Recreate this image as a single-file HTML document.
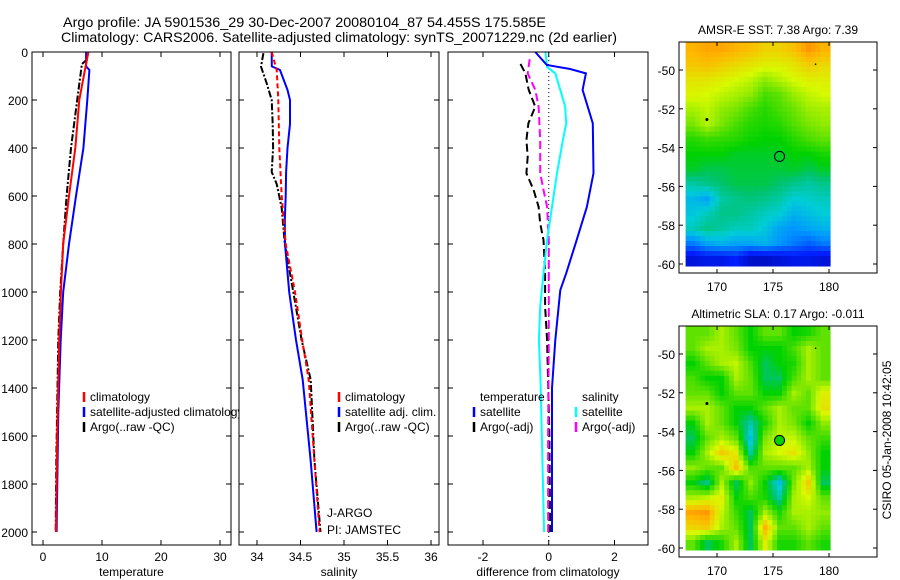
<!DOCTYPE html>
<html><head><meta charset="utf-8"><title>Argo profile</title>
<style>
html,body{margin:0;padding:0;background:#fff;}
svg{display:block;font-family:"Liberation Sans",sans-serif;}
</style></head>
<body>
<svg id="fig" width="900" height="580" viewBox="0 0 900 580" xmlns="http://www.w3.org/2000/svg">
<rect x="0" y="0" width="900" height="580" fill="#fff"/>
<text x="63" y="27" font-size="14" textLength="483" lengthAdjust="spacingAndGlyphs">Argo profile: JA 5901536_29 30-Dec-2007 20080104_87 54.455S 175.585E</text>
<text x="61" y="42" font-size="14" textLength="556" lengthAdjust="spacingAndGlyphs">Climatology: CARS2006. Satellite-adjusted climatology: synTS_20071229.nc (2d earlier)</text>
<g id="layer"></g>
<text x="0" y="0" font-size="12" transform="translate(891,440) rotate(-90)" text-anchor="middle">CSIRO 05-Jan-2008 10:42:05</text>
</svg>
<script>
// ---------- DATA ----------
const depthTicks = [0,200,400,600,800,1000,1200,1400,1600,1800,2000];
const tempTicks = [0,10,20,30];
const salTicks = [34,34.5,35,35.5,36];
const salTickLabels = ["34","34.5","35","35.5","36"];
const diffTicks = [-2,0,2];

const tClimDepth = [0,75,200,400,600,800,1000,1200,1600,2000];
const tClimVal   = [7.69,7.1,6.16,5.48,4.4,3.43,3.04,2.75,2.4,2.2];
const tSatDepth  = [0,60,75,200,400,600,800,1000,1200,1500,2000];
const tSatVal    = [7.3,7.3,7.86,7.5,6.84,5.6,4.4,3.43,3.0,2.6,2.3];
const tArgoDepth = [30,50,200,400,600,800,1000,1200,1700,2000];
const tArgoVal   = [7.5,6.6,5.8,4.75,4.0,3.43,2.92,2.6,2.25,2.15];

const sClimDepth = [0,75,200,400,600,800,1000,1200,1366,1700,2000];
const sClimVal   = [34.169,34.226,34.245,34.256,34.284,34.33,34.437,34.52,34.594,34.66,34.72];
const sSatDepth  = [0,60,75,158,200,300,400,500,600,700,800,1000,1200,1366,1700,2000];
const sSatVal    = [34.169,34.17,34.264,34.35,34.379,34.379,34.35,34.335,34.33,34.32,34.322,34.37,34.448,34.525,34.616,34.685];
const sArgoDepth = [5,61,129,200,300,400,500,550,650,800,1000,1200,1366,1700,2000];
const sArgoVal   = [34.073,34.046,34.11,34.169,34.18,34.185,34.169,34.226,34.284,34.32,34.417,34.513,34.617,34.66,34.73];

const dTSatDepth = [0,54,71,89,158,297,505,645,783,922,992,1200,1400,2000];
const dTSatVal   = [-0.41,-0.06,0.65,1.13,1.03,1.34,1.36,1.16,0.85,0.53,0.35,0.2,0.1,0.1];
const dSSatDepth = [0,63,89,158,228,297,367,505,645,783,922,1061,1200,1366,2000];
const dSSatVal   = [-0.1,-0.05,0.2,0.35,0.5,0.53,0.43,0.25,0.1,-0.05,-0.16,-0.26,-0.3,-0.25,-0.14];
const dTArgoDepth = [50,89,158,228,297,367,436,505,575,645,714,783,922,1061,1200,1600,2000];
const dTArgoVal   = [-0.86,-0.71,-0.61,-0.41,-0.62,-0.68,-0.64,-0.68,-0.46,-0.31,-0.26,-0.16,-0.11,-0.11,-0.05,0.02,0.04];
const dSArgoDepth = [30,89,158,228,367,505,575,645,783,992,1200,1600,2000];
const dSArgoVal   = [-0.58,-0.64,-0.41,-0.31,-0.26,-0.26,-0.16,-0.05,0.0,0.0,0.0,-0.02,-0.02];

const mapLonTicks = [170,175,180];
const mapLatTicks = [-50,-52,-54,-56,-58,-60];
const sstGrid = [
[0.8,0.82,0.82,0.8,0.78,0.75,0.75,0.78,0.84,0.8],
[0.77,0.78,0.76,0.74,0.72,0.7,0.7,0.72,0.76,0.74],
[0.72,0.72,0.7,0.68,0.66,0.62,0.65,0.68,0.7,0.7],
[0.69,0.68,0.66,0.64,0.62,0.56,0.58,0.63,0.66,0.68],
[0.64,0.66,0.62,0.6,0.56,0.53,0.56,0.59,0.63,0.64],
[0.6,0.65,0.6,0.56,0.53,0.52,0.53,0.57,0.6,0.62],
[0.53,0.55,0.54,0.53,0.51,0.5,0.5,0.53,0.56,0.58],
[0.5,0.5,0.5,0.48,0.48,0.48,0.48,0.5,0.5,0.52],
[0.48,0.46,0.46,0.47,0.47,0.47,0.47,0.48,0.46,0.48],
[0.4,0.42,0.44,0.46,0.46,0.46,0.44,0.42,0.4,0.42],
[0.33,0.3,0.4,0.42,0.43,0.42,0.4,0.36,0.37,0.38],
[0.35,0.38,0.42,0.42,0.4,0.38,0.36,0.32,0.34,0.36],
[0.38,0.42,0.4,0.38,0.38,0.35,0.3,0.28,0.3,0.32],
[0.25,0.3,0.32,0.3,0.3,0.32,0.28,0.25,0.22,0.25],
[0.1,0.12,0.12,0.15,0.08,0.08,0.1,0.12,0.12,0.1]];
const slaGrid = [
[0.58,0.58,0.64,0.58,0.5,0.58,0.58,0.5,0.52,0.58],
[0.58,0.64,0.64,0.6,0.5,0.5,0.5,0.56,0.64,0.58],
[0.5,0.58,0.64,0.66,0.56,0.45,0.5,0.52,0.64,0.58],
[0.56,0.5,0.5,0.64,0.58,0.45,0.45,0.56,0.64,0.58],
[0.58,0.58,0.5,0.58,0.58,0.5,0.5,0.64,0.58,0.7],
[0.64,0.64,0.58,0.5,0.5,0.58,0.64,0.58,0.58,0.72],
[0.5,0.64,0.58,0.5,0.4,0.52,0.64,0.6,0.5,0.62],
[0.45,0.58,0.64,0.58,0.34,0.6,0.66,0.66,0.58,0.55],
[0.5,0.64,0.76,0.7,0.4,0.64,0.68,0.72,0.62,0.5],
[0.62,0.58,0.58,0.78,0.56,0.58,0.58,0.58,0.64,0.5],
[0.5,0.42,0.64,0.45,0.62,0.5,0.34,0.6,0.76,0.45],
[0.64,0.66,0.7,0.5,0.56,0.52,0.4,0.64,0.68,0.58],
[0.82,0.84,0.66,0.55,0.45,0.64,0.52,0.64,0.64,0.62],
[0.74,0.76,0.64,0.58,0.45,0.8,0.58,0.58,0.64,0.58],
[0.58,0.45,0.52,0.64,0.45,0.7,0.52,0.52,0.58,0.52]];
const argoLon = 175.585, argoLat = -54.455;

// ---------- HELPERS ----------
const NS = "http://www.w3.org/2000/svg";
const layer = document.getElementById('layer');
function mk(tag, attrs, parent){ const e=document.createElementNS(NS,tag); for(const k in attrs) e.setAttribute(k,attrs[k]); (parent||layer).appendChild(e); return e; }
const Y0=52, YB=545, PXD=0.24;
const yD = d => Y0 + d*PXD;
function linScale(d0,d1,r0,r1){ return v => r0 + (v-d0)/(d1-d0)*(r1-r0); }
const panels = [
 {name:'temperature', x0:32, x1:231, sc:linScale(0,30,43,220)},
 {name:'salinity', x0:239, x1:439, sc:linScale(34,36,257,431)},
 {name:'difference', x0:448, x1:648, sc:linScale(-2,2,483,614.5)}
];
function drawLine(p, depths, vals, color, dash, w, nm){
  const pts = depths.map((d,i)=> p.sc(vals[i]).toFixed(1)+','+yD(d).toFixed(1)).join(' ');
  const e = mk('polyline',{points:pts, fill:'none', stroke:color, 'stroke-width':w, 'stroke-dasharray':dash||'none'});
  
  
}
function txt(x,y,s,anchor,size,nm){ const e=mk('text',{x:x,y:y,'font-size':size||12,'text-anchor':anchor||'start'}); e.textContent=s;
  
  
  return e; }
function frameAxes(p, xt, xl, title){
  const g = mk('g',{});
  
  
  mk('rect',{x:p.x0,y:Y0,width:p.x1-p.x0,height:YB-Y0,fill:'none',stroke:'#000','stroke-width':1},g);
  depthTicks.forEach(d=>{ const y=yD(d);
    mk('line',{x1:p.x0,y1:y,x2:p.x0+5,y2:y,stroke:'#000'},g);
    mk('line',{x1:p.x1-5,y1:y,x2:p.x1,y2:y,stroke:'#000'},g);
  });
  xt.forEach((v,i)=>{ const x=p.sc(v);
    mk('line',{x1:x,y1:Y0,x2:x,y2:Y0+5,stroke:'#000'},g);
    mk('line',{x1:x,y1:YB-5,x2:x,y2:YB,stroke:'#000'},g);
    txt(x,561,xl[i],'middle',12,p.name+'-x-tick-label');
  });
  txt((p.x0+p.x1)/2,576,title,'middle',12,p.name+'-x-axis-title');
}
function legendMark(x,y,color,dash,nm){ const e=mk('line',{x1:x,y1:y-9,x2:x,y2:y+1,stroke:color,'stroke-width':2.5,'stroke-dasharray':dash||'none'});
  
   }

// ---------- PANEL 1 ----------
const P1=panels[0], P2=panels[1], P3=panels[2];
drawLine(P1,tArgoDepth,tArgoVal,'#000','7,2,2,2',2,'temp-argo-line');
drawLine(P1,tSatDepth,tSatVal,'#0000ff','',2,'temp-satellite-line');
drawLine(P1,tClimDepth,tClimVal,'#ff0000','',2,'temp-climatology-line');
frameAxes(P1,tempTicks,tempTicks.map(String),'temperature');
depthTicks.forEach(d=>txt(28,yD(d)+5,String(d),'end',12,'depth-tick-label'));
legendMark(84,401,'#ff0000','','legend-climatology-mark'); txt(90,401,'climatology','start',12,'legend-climatology');
legendMark(84,416,'#0000ff','','legend-satellite-mark'); txt(90,416,'satellite-adjusted climatology','start',12,'legend-satellite-adjusted');
legendMark(84,431,'#000','','legend-argo-mark'); txt(90,431,'Argo(..raw -QC)','start',12,'legend-argo');

// ---------- PANEL 2 ----------
mk('rect',{x:P2.x0,y:Y0,width:P2.x1-P2.x0,height:YB-Y0,fill:'#fff'});
drawLine(P2,sArgoDepth,sArgoVal,'#000','7,2,2,2',2,'sal-argo-line');
drawLine(P2,sSatDepth,sSatVal,'#0000ff','',2,'sal-satellite-line');
drawLine(P2,sClimDepth,sClimVal,'#ff0000','5,3',2,'sal-climatology-line');
frameAxes(P2,salTicks,salTickLabels,'salinity');
legendMark(339,401,'#ff0000','','legend2-climatology-mark'); txt(345,401,'climatology','start',12,'legend2-climatology');
legendMark(339,416,'#0000ff','','legend2-satellite-mark'); txt(345,416,'satellite adj. clim.','start',12,'legend2-satellite');
legendMark(339,431,'#000','','legend2-argo-mark'); txt(345,431,'Argo(..raw -QC)','start',12,'legend2-argo');
txt(327,517,'J-ARGO','start',12,'float-program-label');
txt(327,534,'PI: JAMSTEC','start',12,'pi-label');

// ---------- PANEL 3 ----------
mk('rect',{x:P3.x0,y:Y0,width:P3.x1-P3.x0,height:YB-Y0,fill:'#fff'});
const zl=mk('line',{x1:P3.sc(0),y1:Y0,x2:P3.sc(0),y2:YB,stroke:'#000','stroke-width':1,'stroke-dasharray':'1,3'});


drawLine(P3,dTArgoDepth,dTArgoVal,'#000','8,4',2,'diff-temp-argo-line');
drawLine(P3,dSArgoDepth,dSArgoVal,'#ff00ff','8,4',2,'diff-sal-argo-line');
drawLine(P3,dSSatDepth,dSSatVal,'#00ffff','',2,'diff-sal-satellite-line');
drawLine(P3,dTSatDepth,dTSatVal,'#0000ff','',2,'diff-temp-satellite-line');
frameAxes(P3,diffTicks,diffTicks.map(String),'difference from climatology');
txt(480,401,'temperature','start',12,'legend3-temperature-heading');
txt(582,401,'salinity','start',12,'legend3-salinity-heading');
legendMark(474,416,'#0000ff','','legend3-temp-satellite-mark'); txt(480,416,'satellite','start',12,'legend3-temp-satellite');
legendMark(474,431,'#000','','legend3-temp-argo-mark'); txt(480,431,'Argo(-adj)','start',12,'legend3-temp-argo');
legendMark(576,416,'#00ffff','','legend3-sal-satellite-mark'); txt(582,416,'satellite','start',12,'legend3-sal-satellite');
legendMark(576,431,'#ff00ff','','legend3-sal-argo-mark'); txt(582,431,'Argo(-adj)','start',12,'legend3-sal-argo');

// ---------- MAPS ----------
const cmapStops = [
 [0.0,[0,0,140]],[0.15,[0,30,255]],[0.28,[0,150,255]],[0.36,[0,205,215]],
 [0.44,[0,195,110]],[0.5,[0,210,0]],[0.6,[120,230,0]],[0.68,[215,250,0]],
 [0.8,[255,180,0]],[0.9,[255,110,0]],[1.0,[210,0,0]]];
function cmap(v){
  v=Math.max(0,Math.min(1,v));
  for(let i=1;i<cmapStops.length;i++){
    const a=cmapStops[i-1], b=cmapStops[i];
    if(v<=b[0]){ const t=(v-a[0])/(b[0]-a[0]);
      return 'rgb('+a[1].map((c,k)=>Math.round(c+(b[1][k]-c)*t)).join(',')+')'; }
  }
  return 'rgb(210,0,0)';
}
function sample(grid, fr, fc){
  const rows=grid.length, cols=grid[0].length;
  const r=Math.max(0,Math.min(rows-1,fr)), c=Math.max(0,Math.min(cols-1,fc));
  const r0=Math.floor(r), c0=Math.floor(c), r1=Math.min(rows-1,r0+1), c1=Math.min(cols-1,c0+1);
  const tr=r-r0, tc=c-c0;
  return (grid[r0][c0]*(1-tc)+grid[r0][c1]*tc)*(1-tr)+(grid[r1][c0]*(1-tc)+grid[r1][c1]*tc)*tr;
}
function drawMap(top, grid, title, nm, filled){
  const lonS=linScale(170,180,717,829), latS=linScale(-50,-60,top+28,top+222);
  const g=mk('g',{});
  
  
  const lon0=167.2, lon1=180.1, lat0=-48.56, lat1=-60.1;
  const rows=grid.length, cols=grid[0].length, sub=3;
  const R=rows*sub, C=cols*sub;
  const dLon=(lon1-lon0)/C, dLat=(lat1-lat0)/R;
  for(let r=0;r<R;r++) for(let c=0;c<C;c++){
    const v=sample(grid,(r+0.5)/sub-0.5,(c+0.5)/sub-0.5);
    const x=lonS(lon0+c*dLon), y=latS(lat0+r*dLat);
    const cell=mk('rect',{x:x.toFixed(1),y:y.toFixed(1),width:(lonS(lon0+(c+1)*dLon)-x+0.5).toFixed(1),height:(latS(lat0+(r+1)*dLat)-y+0.5).toFixed(1),fill:cmap(v)},g);
    
    
  }
  mk('rect',{x:679,y:top,width:198,height:231,fill:'none',stroke:'#000'},g);
  mapLatTicks.forEach(l=>{ const y=latS(l);
    mk('line',{x1:679,y1:y,x2:683,y2:y,stroke:'#000'},g);
    mk('line',{x1:873,y1:y,x2:877,y2:y,stroke:'#000'},g);
    txt(675,y+5,String(l),'end',12,nm+'-lat-tick-label');
  });
  mapLonTicks.forEach(l=>{ const x=lonS(l);
    mk('line',{x1:x,y1:top,x2:x,y2:top+4,stroke:'#000'},g);
    mk('line',{x1:x,y1:top+227,x2:x,y2:top+231,stroke:'#000'},g);
    txt(x,top+249,String(l),'middle',12,nm+'-lon-tick-label');
  });
  txt(778,top-8,title,'middle',12,nm+'-title');
  const c=mk('circle',{cx:lonS(argoLon),cy:latS(argoLat),r:5,fill:filled?cmap(0.5):'none',stroke:'#000','stroke-width':1},g);
  
  
  mk('circle',{cx:lonS(169.1),cy:latS(-52.55),r:1.5,fill:'#000'},g);
  mk('circle',{cx:lonS(178.8),cy:latS(-49.7),r:0.8,fill:'#000'},g);
}
drawMap(42, sstGrid, 'AMSR-E SST: 7.38 Argo: 7.39', 'sst-map', false);
drawMap(326, slaGrid, 'Altimetric SLA: 0.17 Argo: -0.011', 'sla-map', true);
</script>
</body></html>
